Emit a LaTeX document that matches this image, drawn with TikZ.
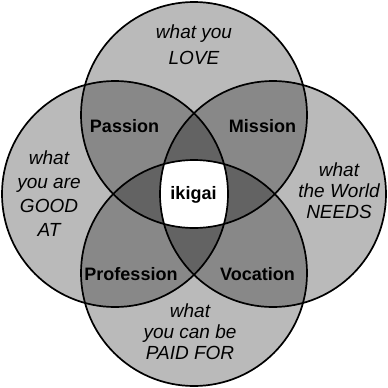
\documentclass[tikz,border=0pt]{standalone}
\usepackage{fontspec}
\setmainfont{Liberation Sans}
\usetikzlibrary{positioning}
\tikzset{
  ring/.style={draw=black, line width=1.7pt},
  tint/.style={fill=black, fill opacity=0.27},
  overlap/.style={font=\bfseries\fontsize{18}{21}\selectfont, inner sep=0pt},
  want/.style={font=\itshape\fontsize{19}{22}\selectfont, align=center, inner sep=0pt}
}

\begin{document}
\begin{tikzpicture}[x=1pt, y=-1pt]
    \useasboundingbox (0,0) rectangle (388,388);
    \coordinate (love) at (194,115);
    \coordinate (good) at (115,194);
    \coordinate (needs) at (273,194);
    \coordinate (paid) at (194,273);
    % shaded circles
    \foreach \c in {love, good, needs, paid}
      \fill[tint] (\c) circle[radius=113pt];
    % centre stays white
    \begin{scope}
      \clip (love) circle[radius=113pt];
      \clip (good) circle[radius=113pt];
      \clip (needs) circle[radius=113pt];
      \fill[white] (paid) circle[radius=113pt];
    \end{scope}
    \foreach \c in {love, good, needs, paid}
      \draw[ring] (\c) circle[radius=113pt];
    % labels
    \node[want, font=\itshape\fontsize{19}{26}\selectfont] (tlove) at (194,45) {what you\\LOVE};
    \node[want, font=\itshape\fontsize{19}{24}\selectfont] (tgood) at (49,194) {what\\you are\\GOOD\\AT};
    \node[want, font=\itshape\fontsize{19}{21}\selectfont] (tneeds) at (339,191) {what\\the World\\NEEDS};
    \node[want, font=\itshape\fontsize{19}{21}\selectfont] (tpaid) at (190,332) {what\\you can be\\PAID FOR};
    \node[overlap] (passion) at (124.5,126) {Passion};
    \node[overlap] (mission) at (262.5,126) {Mission};
    \node[overlap] (profession) at (131,274) {Profession};
    \node[overlap] (vocation) at (257.5,274) {Vocation};
    \node[overlap] (ikigai) at (193.5,195) {ikigai};
  \end{tikzpicture}
\end{document}
